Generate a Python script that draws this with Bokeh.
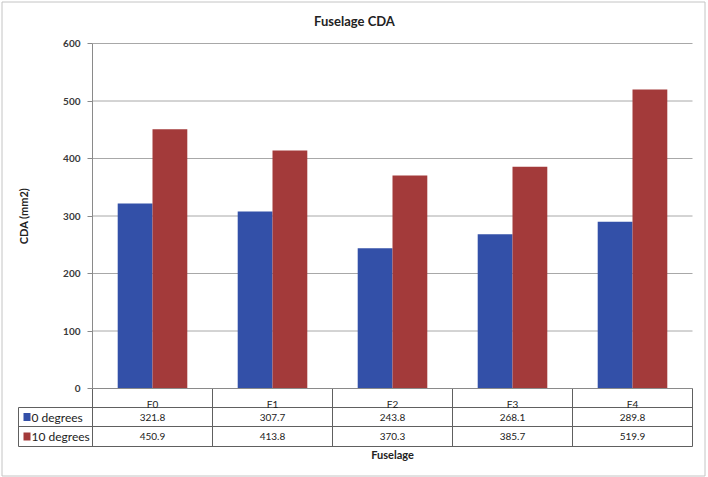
from bokeh.plotting import figure
from bokeh.models import Range1d, FixedTicker, Label
from bokeh.embed import file_html
from bokeh.resources import INLINE
import math

# --- data -----------------------------------------------------------------
categories = ["F0", "F1", "F2", "F3", "F4"]
deg0 = [321.8, 307.7, 243.8, 268.1, 289.8]
deg10 = [450.9, 413.8, 370.3, 385.7, 519.9]
series_names = ["0 degrees", "10 degrees"]
y_ticks = [0, 100, 200, 300, 400, 500, 600]

BLUE = "#3350A8"
RED = "#A33A3A"
FONT = "Lato"
TEXT = "#222222"
TABLE_LINE = "#606060"
AXIS_LINE = "#8a8a8a"
GRID = "#a8a8a8"

# --- page geometry (pixels) -------------------------------------------------
W, H = 708, 477
PLOT_L, PLOT_R, PLOT_T = 92, 692, 43     # bar area
ZERO_PX = 388                            # y = 0
ROW_PX = [407, 426, 446]                 # data-table row rules
KEY_L = 18                               # left edge of the legend-key column
Y_MAX = 600
PX_PER_UNIT = (ZERO_PX - PLOT_T) / Y_MAX
CAT_PX = (PLOT_R - PLOT_L) / len(categories)


def dx(px):
    return (px - PLOT_L) / CAT_PX


def dy(py):
    return (ZERO_PX - py) / PX_PER_UNIT


n = len(categories)
centers = [i + 0.5 for i in range(n)]

# frame covers the whole canvas; axes are pinned with fixed_location
p = figure(width=W, height=H,
           x_range=Range1d(dx(0), dx(W)), y_range=Range1d(dy(H), dy(0)),
           output_backend="svg", toolbar_location=None, min_border=0)
p.background_fill_color = "white"
p.border_fill_color = "white"
p.outline_line_color = None
p.xgrid.visible = False
p.ygrid.visible = False

# --- gridlines ----------------------------------------------------------------
p.segment(x0=[0] * len(y_ticks), x1=[n] * len(y_ticks), y0=y_ticks, y1=y_ticks,
          line_color=GRID, line_width=1)

# --- bars -------------------------------------------------------------------
bar_w = 0.29
p.vbar(x=[c - bar_w / 2 for c in centers], top=deg0, bottom=0, width=bar_w,
       fill_color=BLUE, line_color=None)
p.vbar(x=[c + bar_w / 2 for c in centers], top=deg10, bottom=0, width=bar_w,
       fill_color=RED, line_color=None)

# --- axes -------------------------------------------------------------------
yax = p.yaxis[0]
yax.fixed_location = 0
yax.bounds = (0, Y_MAX)
yax.ticker = FixedTicker(ticks=y_ticks)
yax.axis_line_color = AXIS_LINE
yax.major_tick_line_color = AXIS_LINE
yax.major_tick_out = 5
yax.major_tick_in = 0
yax.minor_tick_line_color = None
yax.major_label_standoff = 7
yax.major_label_text_font = FONT
yax.major_label_text_font_size = "10px"
yax.major_label_text_font_style = "bold"
yax.major_label_text_color = "#3a3a3a"

xax = p.xaxis[0]
xax.fixed_location = 0
xax.bounds = (0, n)
xax.ticker = FixedTicker(ticks=centers)
xax.major_label_overrides = {c: cat for c, cat in zip(centers, categories)}
xax.axis_line_color = AXIS_LINE
xax.major_tick_line_color = None
xax.minor_tick_line_color = None
xax.major_label_standoff = 3
xax.major_label_text_font = FONT
xax.major_label_text_font_size = "10px"
xax.major_label_text_color = TEXT

# --- titles -------------------------------------------------------------------
p.add_layout(Label(x=dx(354), y=dy(20), text="Fuselage CDA", text_align="center",
                   text_baseline="middle", text_font=FONT, text_font_size="13px",
                   text_font_style="bold", text_color=TEXT))
p.add_layout(Label(x=dx(23), y=Y_MAX / 2, text="CDA (mm2)", angle=math.pi / 2,
                   text_align="center", text_baseline="middle", text_font=FONT,
                   text_font_size="11px", text_font_style="bold", text_color=TEXT))
p.add_layout(Label(x=n / 2, y=dy(454), text="Fuselage", text_align="center",
                   text_baseline="middle", text_font=FONT, text_font_size="11px",
                   text_font_style="bold", text_color=TEXT))

# --- data table -----------------------------------------------------------------
r1, r2, r3 = (dy(v) for v in ROW_PX)
key_x = dx(KEY_L)
# horizontal rules
p.segment(x0=[key_x, key_x, key_x], x1=[n, n, n], y0=[r1, r2, r3], y1=[r1, r2, r3],
          line_color=TABLE_LINE, line_width=1)
# vertical rules at category boundaries
bounds = list(range(0, n + 1))
p.segment(x0=bounds, x1=bounds, y0=[0] * len(bounds), y1=[r3] * len(bounds),
          line_color=TABLE_LINE, line_width=1)
p.segment(x0=[key_x], x1=[key_x], y0=[r1], y1=[r3], line_color=TABLE_LINE, line_width=1)

# value cells
for vals, (top, bot) in ((deg0, (r1, r2)), (deg10, (r2, r3))):
    p.text(x=centers, y=[(top + bot) / 2] * n, text=[f"{v:.1f}" for v in vals],
           text_align="center", text_baseline="middle", text_font={"value": FONT},
           text_font_size="10px", text_color=TEXT)

# legend keys
sw = 4 / PX_PER_UNIT
for name, col, (top, bot) in zip(series_names, [BLUE, RED], [(r1, r2), (r2, r3)]):
    mid = (top + bot) / 2
    p.quad(left=dx(23), right=dx(30), top=mid + sw, bottom=mid - sw,
           fill_color=col, line_color=None)
    p.text(x=[dx(31)], y=[mid], text=[name], text_align="left", text_baseline="middle",
           text_font={"value": FONT}, text_font_size="12px", text_color=TEXT)

# chart border
p.quad(left=dx(1.5), right=dx(704.5), top=dy(1.5), bottom=dy(475.5),
       fill_color=None, line_color="#c4c4c4", line_width=1)

open("out.html", "w").write(file_html(p, INLINE))
